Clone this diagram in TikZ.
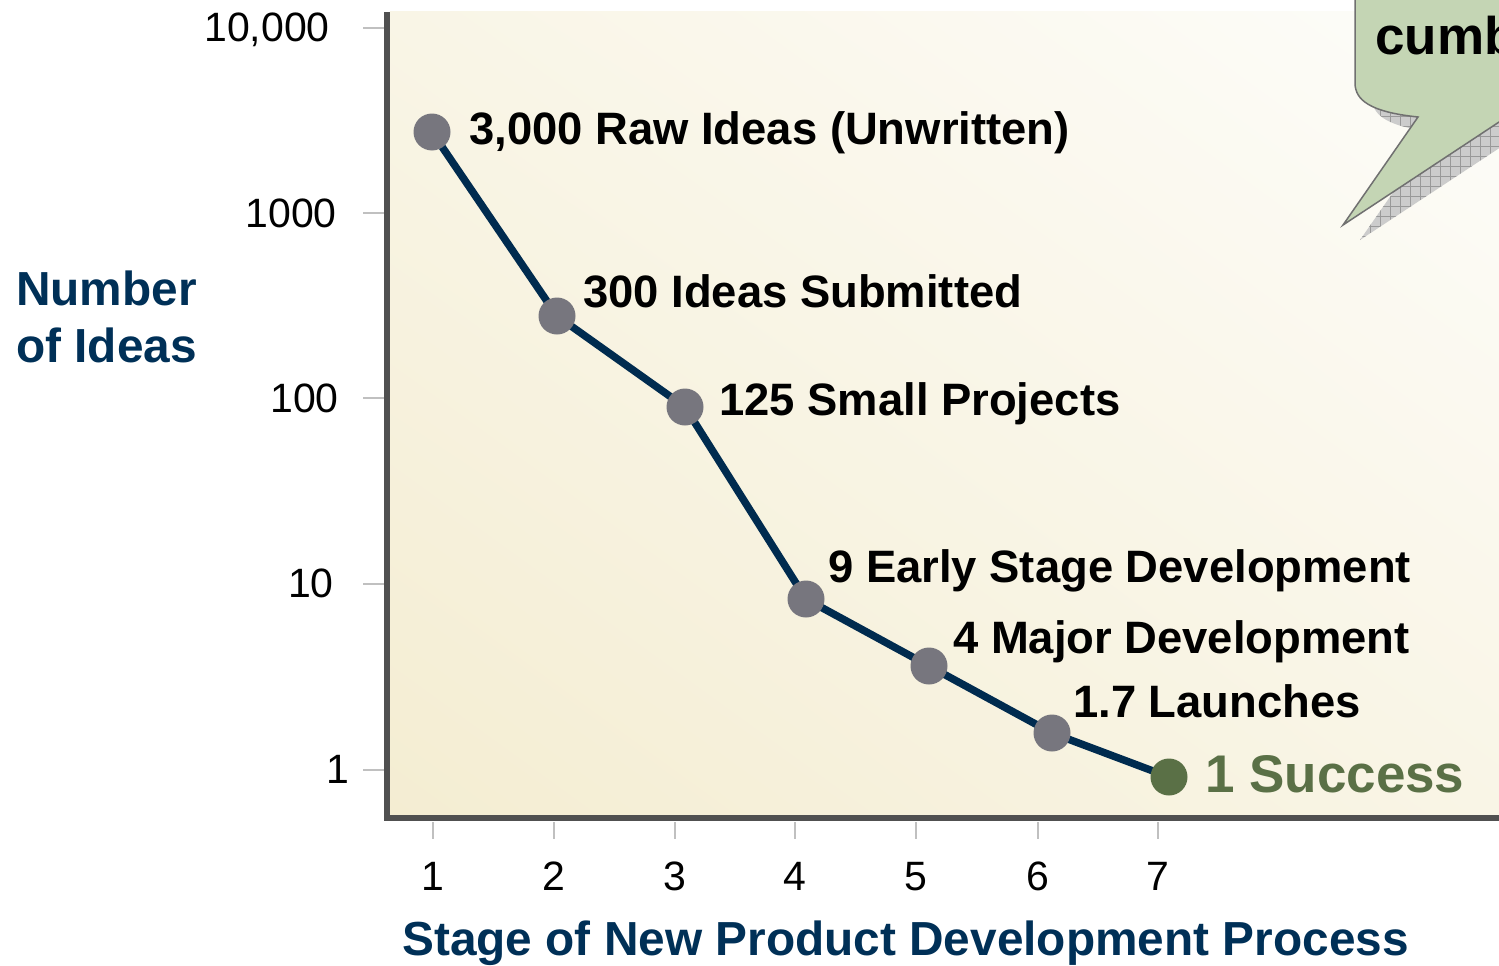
\documentclass[tikz,border=0pt]{standalone}
\usepackage{fontspec}
\setmainfont{Liberation Sans}
\usetikzlibrary{patterns.meta,shadings}
\definecolor{navy}{RGB}{0,43,79}
\definecolor{titlenavy}{RGB}{0,48,87}
\definecolor{ptgrey}{RGB}{119,118,126}
\definecolor{ptgreen}{RGB}{90,112,70}
\definecolor{axisgrey}{RGB}{80,80,80}
\definecolor{tickgrey}{RGB}{192,192,192}
\definecolor{creamA}{RGB}{244,237,210}
\definecolor{creamB}{RGB}{249,245,230}
\definecolor{creamC}{RGB}{253,253,250}
\definecolor{bubblefill}{RGB}{196,213,180}
\definecolor{bubbleline}{RGB}{112,112,112}
\pgfdeclarelayer{bg}\pgfdeclarelayer{lines}\pgfsetlayers{bg,lines,main}
\begin{document}
\begin{tikzpicture}[x=1pt,y=-1pt,
  datapt/.style={circle,fill=ptgrey,minimum size=37pt,inner sep=0pt},
  lab/.style={anchor=base west,inner sep=0pt,font=\fontsize{45.4}{54}\selectfont\bfseries},
  ynum/.style={anchor=base east,inner sep=0pt,font=\fontsize{41}{49}\selectfont},
  xnum/.style={anchor=base,inner sep=0pt,font=\fontsize{41}{49}\selectfont},
  axtitle/.style={inner sep=0pt,text=titlenavy,font=\fontsize{47.8}{57}\selectfont\bfseries},
  conn/.style={draw=navy,line width=7.5pt,line join=round},
  tick/.style={draw=tickgrey,line width=1.5pt},
  axisline/.style={draw=axisgrey,line width=6pt,line join=miter}]
\useasboundingbox (0,0) rectangle (1499,966);
\begin{pgfonlayer}{bg}
  \shade[lower left=creamA,upper left=creamB,lower right=creamB,upper right=creamC]
    (390,12) rectangle (1499,815);
\end{pgfonlayer}
% ticks
\foreach \yy in {28,213,398,584,770} \draw[tick] (363,\yy) -- (385,\yy);
\foreach \xx in {433,554,675,795,916,1038,1158} \draw[tick] (\xx,822) -- (\xx,839);
% axes
\draw[axisline] (387,12) -- (387,818) -- (1510,818);
% y labels
\node[ynum] (y4) at (330,42) {10,000};
\node[ynum] (y3) at (337,227) {1000};
\node[ynum] (y2) at (339,412) {100};
\node[ynum] (y1) at (334,597) {10};
\node[ynum] (y0) at (349,783) {1};
% x labels
\foreach \xx/\n in {433/1,554/2,675/3,795/4,916/5,1038/6,1158/7}
  \node[xnum] (x\n) at (\xx,890) {\n};
% axis titles
\node[axtitle,anchor=base west] (ytitle) at (16,305) {Number};
\node[axtitle,anchor=base west] (ytitle2) at (16,362) {of Ideas};
\node[axtitle,anchor=base west] (xtitle) at (402,955) {Stage of New Product Development Process};
% data points
\node[datapt] (p1) at (432,132) {};
\node[datapt] (p2) at (557,316) {};
\node[datapt] (p3) at (685,407) {};
\node[datapt] (p4) at (806,599) {};
\node[datapt] (p5) at (929,666) {};
\node[datapt] (p6) at (1052,733) {};
\node[datapt,fill=ptgreen] (p7) at (1169,777) {};
\begin{pgfonlayer}{lines}
  \draw[conn] (p1.center) -- (p2.center) -- (p3.center) -- (p4.center) -- (p5.center) -- (p6.center) -- (p7.center);
\end{pgfonlayer}
% point labels
\node[lab] (l1) at (469,144) {3,000 Raw Ideas (Unwritten)};
\node[lab] (l2) at (583,307) {300 Ideas Submitted};
\node[lab] (l3) at (719,415) {125 Small Projects};
\node[lab] (l4) at (828,582) {9 Early Stage Development};
\node[lab] (l5) at (953,653) {4 Major Development};
\node[lab] (l6) at (1073,717) {1.7 Launches};
\node[lab,text=ptgreen,font=\fontsize{53}{63}\selectfont\bfseries] (l7) at (1205,792) {1 Success};
% callout
\begin{scope}
  \clip (0,0) rectangle (1499,966);
  \begin{scope}[shift={(17,15)}]
    \fill[gray!40] (1355,-30) -- (1355,83) .. controls (1355,100) and (1370,112) .. (1418,117)
      -- (1343,225) -- (1540,95) -- (1540,-30) -- cycle;
    \path[pattern={Hatch[angle=0,distance=10pt,line width=0.7pt]},pattern color=gray!80]
      (1355,-30) -- (1355,83) .. controls (1355,100) and (1370,112) .. (1418,117)
      -- (1343,225) -- (1540,95) -- (1540,-30) -- cycle;
  \end{scope}
  \draw[fill=bubblefill,draw=bubbleline,line width=1.5pt,line join=miter]
    (1355,-30) -- (1355,83) .. controls (1355,100) and (1370,112) .. (1418,117)
    -- (1343,225) -- (1540,95) -- (1540,-30) -- cycle;
  \node[anchor=base west,inner sep=0pt,font=\fontsize{53}{63}\selectfont\bfseries] (callout) at (1375,55) {cumb};
\end{scope}
\end{tikzpicture}
\end{document}
